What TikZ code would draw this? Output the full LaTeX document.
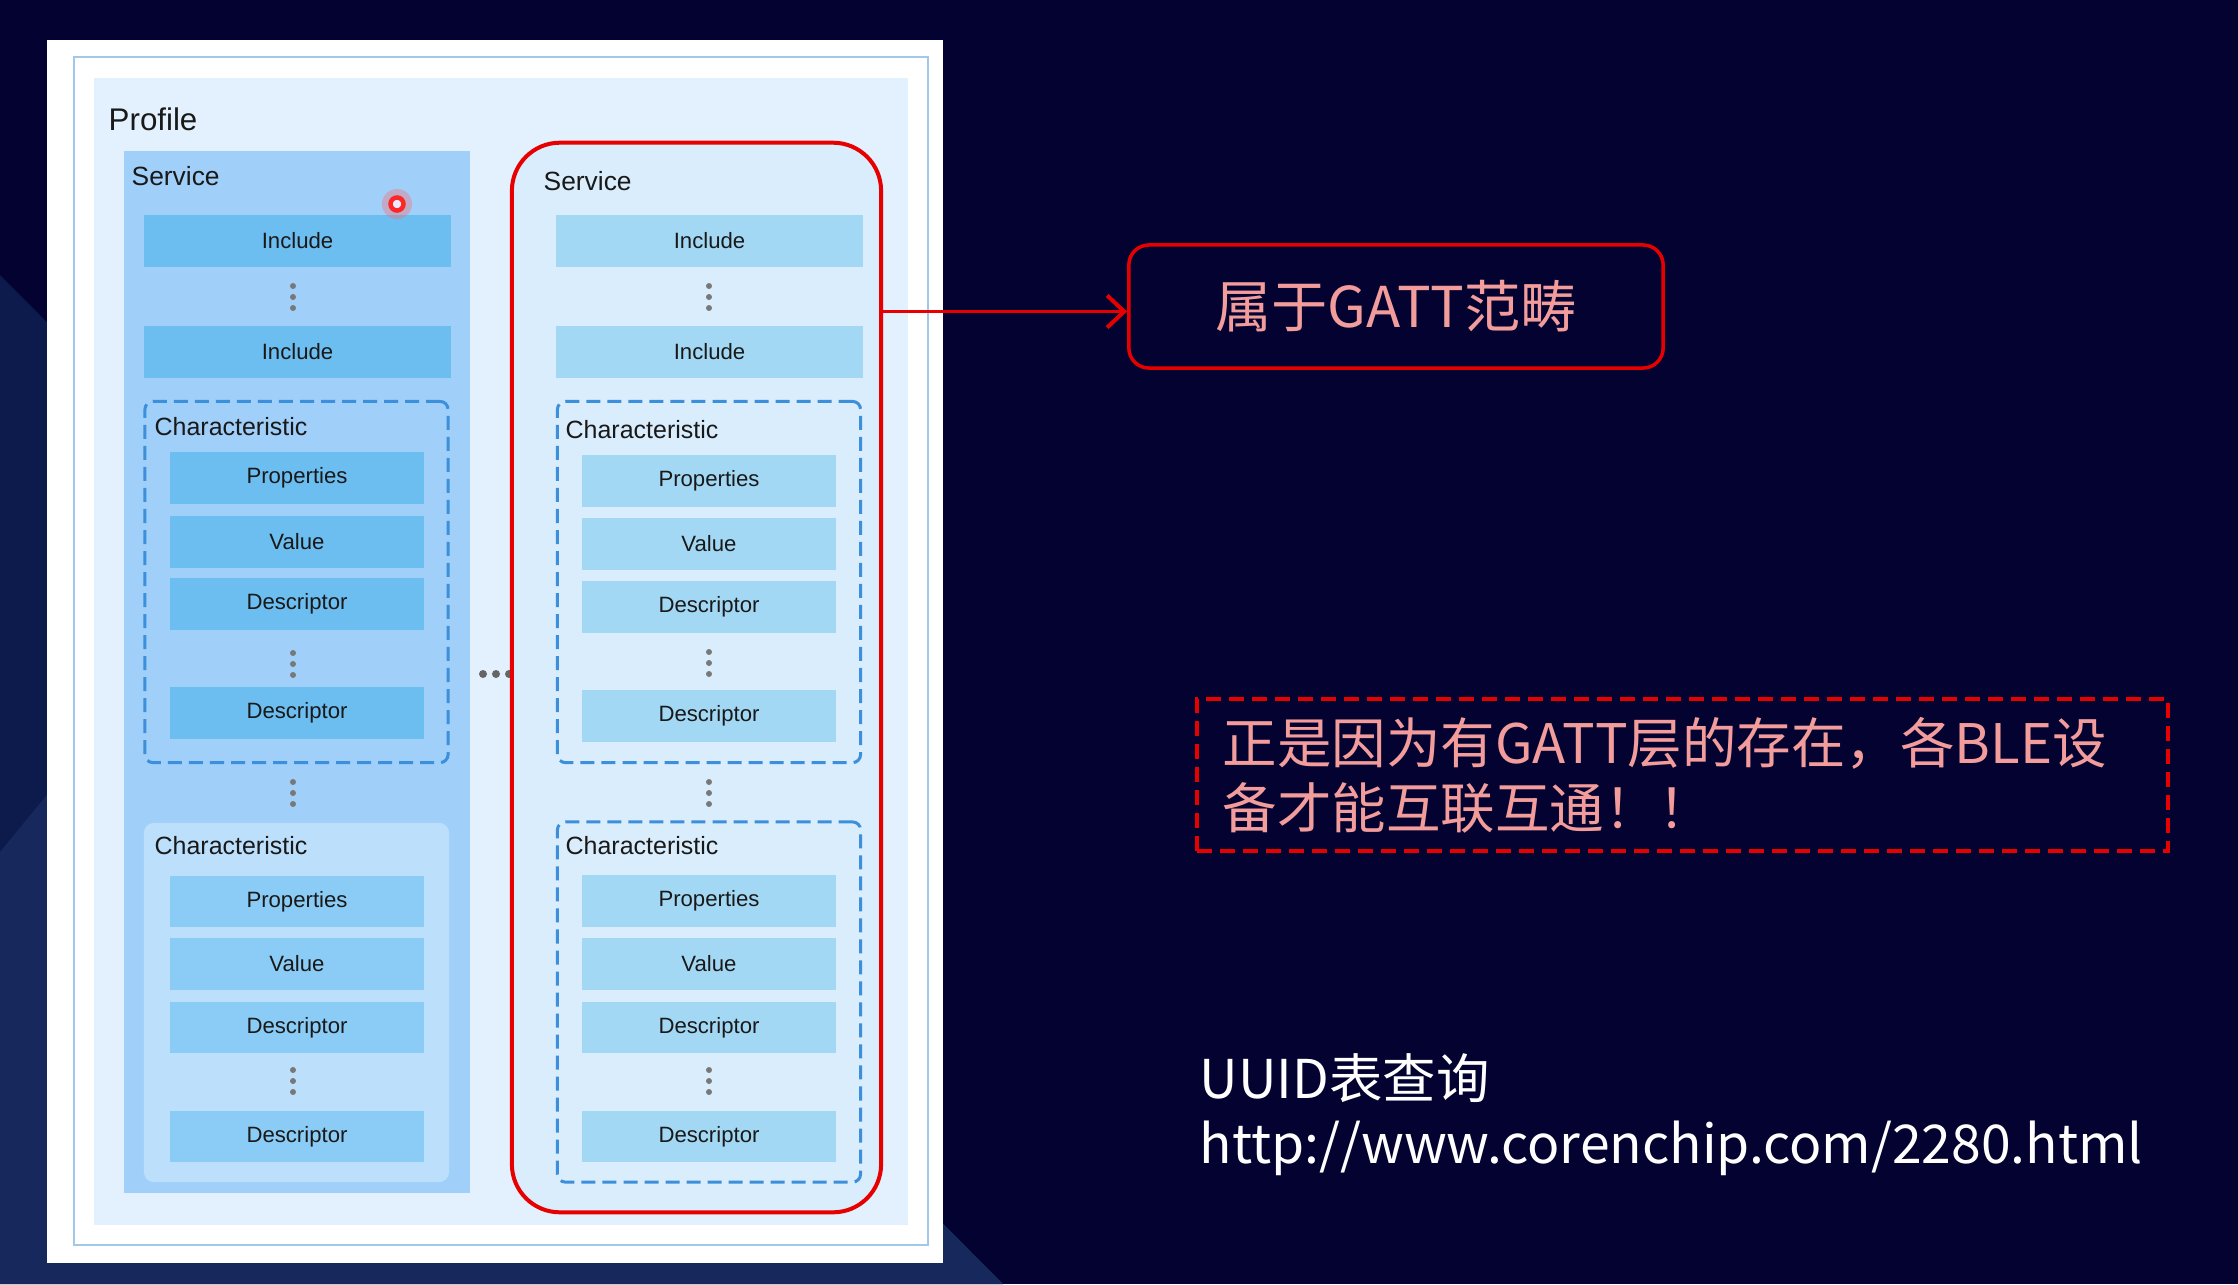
\documentclass[tikz,border=0pt]{standalone}
\usepackage{fontspec}
\setmainfont{Liberation Sans}
\newfontfamily\cjk{Noto Sans CJK SC}
\usetikzlibrary{arrows.meta,positioning,calc}

\definecolor{bgnavy}{RGB}{3,2,48}
\definecolor{bgmid}{RGB}{12,26,76}
\definecolor{bglow}{RGB}{22,40,92}
\definecolor{frameblue}{RGB}{160,200,232}
\definecolor{profbg}{RGB}{226,241,253}
\definecolor{lsvcbg}{RGB}{160,207,249}
\definecolor{lattrbg}{RGB}{108,189,240}
\definecolor{lchrbg}{RGB}{188,224,252}
\definecolor{lattrtwo}{RGB}{138,204,245}
\definecolor{rattrbg}{RGB}{163,216,245}
\definecolor{rsvcbg}{RGB}{218,237,252}
\definecolor{dashblue}{RGB}{60,143,218}
\definecolor{dotgray}{RGB}{120,120,120}
\definecolor{txtdark}{RGB}{25,25,25}
\definecolor{gattred}{RGB}{230,0,0}
\definecolor{pinktxt}{RGB}{242,156,156}

\tikzset{
  attr/.style={rectangle,inner sep=0pt,minimum width=2.54cm,minimum height=0.51cm,text=txtdark,font=\fontsize{6.3}{7}\selectfont},
  incl/.style={attr,minimum width=3.07cm,minimum height=0.52cm},
  lattr/.style={attr,fill=lattrbg},
  lattr2/.style={attr,fill=lattrtwo},
  rattr/.style={attr,fill=rattrbg},
  chrbox/.style={rectangle,rounded corners=0.08cm,draw=dashblue,line width=0.03cm,dash pattern=on 0.14cm off 0.07cm,minimum width=3.03cm,minimum height=3.61cm},
  lchr/.style={rectangle,rounded corners=0.1cm,fill=lchrbg,minimum width=3.05cm,minimum height=3.59cm},
  lbl/.style={anchor=west,inner sep=0pt,text=txtdark},
  arr/.style={-{Straight Barb[length=0.17cm,width=0.32cm,line width=0.04cm]},gattred,line width=0.035cm},
  gattbox/.style={rectangle,rounded corners=0.2cm,draw=gattred,line width=0.035cm,minimum width=5.34cm,minimum height=1.23cm,text=pinktxt,font=\cjk\fontsize{16}{19}\selectfont},
  notebox/.style={rectangle,draw=gattred,line width=0.04cm,dash pattern=on 0.15cm off 0.08cm,minimum width=9.71cm,minimum height=1.52cm,text width=9.19cm,align=left,text=pinktxt,font=\cjk\fontsize{15.5}{18.5}\selectfont}
}

\begin{document}
\begin{tikzpicture}[x=0.01cm,y=-0.01cm]
  \useasboundingbox (0,0) rectangle (2238,1284);
  % slide background
  \fill[bgnavy] (0,0) rectangle (2238,1284);
  \fill[bgmid] (0,275) -- (1003,1284) -- (0,1284) -- cycle;
  \fill[bglow] (0,852) -- (260,535) -- (1003,1284) -- (0,1284) -- cycle;

  % profile panel
  \node[rectangle,fill=white,minimum width=8.96cm,minimum height=12.23cm] (panel) at (495,651.5) {};
  \node[rectangle,draw=frameblue,line width=0.02cm,minimum width=8.54cm,minimum height=11.88cm] (frame) at (501,651) {};
  \node[rectangle,fill=profbg,minimum width=8.14cm,minimum height=11.47cm] (prof) at (501,651.5) {};
  \node[lbl,font=\fontsize{8.9}{10}\selectfont] (proflbl) at (108,119) {Profile};

  % left service
  \node[rectangle,fill=lsvcbg,minimum width=3.46cm,minimum height=10.42cm] (lsvc) at (297,672) {};
  \node[lbl,font=\fontsize{7.5}{9}\selectfont] (lsvclbl) at (131,176) {Service};
  \node[incl,fill=lattrbg] (linc1) at (297.5,241) {Include};
  \node[incl,fill=lattrbg] (linc2) at (297.5,352) {Include};

  \node[chrbox] (lc1) at (296.5,582) {};
  \node[lbl,font=\fontsize{7.1}{8}\selectfont] (lc1lbl) at (154,427) {Characteristic};
  \foreach \nm/\txt/\y in {p/Properties/478,v/Value/542,d/Descriptor/604,n/Descriptor/713}
    \node[lattr] (lc1\nm) at (297,\y) {\txt};

  \node[lchr] (lc2) at (296.5,1002.5) {};
  \node[lbl,font=\fontsize{7.1}{8}\selectfont] (lc2lbl) at (154,846) {Characteristic};
  \foreach \nm/\txt/\y in {p/Properties/901.5,v/Value/964,d/Descriptor/1027.5,n/Descriptor/1136.5}
    \node[lattr2] (lc2\nm) at (297,\y) {\txt};

  % dots between columns
  \foreach \x in {483,496,509}
    \fill[dotgray!85!black] (\x,674) circle (0.04cm);

  % right service (GATT)
  \node[rectangle,rounded corners=0.48cm,draw=gattred,fill=rsvcbg,line width=0.04cm,minimum width=3.69cm,minimum height=10.69cm] (rsvc) at (696.5,677.5) {};
  \node[lbl,font=\fontsize{7.5}{9}\selectfont] (rsvclbl) at (543,181) {Service};
  \node[incl,fill=rattrbg] (rinc1) at (709.5,241) {Include};
  \node[incl,fill=rattrbg] (rinc2) at (709.5,352) {Include};

  \node[chrbox] (rc1) at (709,582) {};
  \node[lbl,font=\fontsize{7.1}{8}\selectfont] (rc1lbl) at (565,430) {Characteristic};
  \foreach \nm/\txt/\y in {p/Properties/481,v/Value/544,d/Descriptor/607,n/Descriptor/716}
    \node[rattr] (rc1\nm) at (709,\y) {\txt};

  \node[chrbox,minimum height=3.60cm] (rc2) at (709,1002) {};
  \node[lbl,font=\fontsize{7.1}{8}\selectfont] (rc2lbl) at (565,846) {Characteristic};
  \foreach \nm/\txt/\y in {p/Properties/901,v/Value/964,d/Descriptor/1027.5,n/Descriptor/1136.5}
    \node[rattr] (rc2\nm) at (709,\y) {\txt};

  % vertical dots
  \foreach \x/\y in {293/297,709/297,293/664,709/663,293/793,709/793,293/1081,709/1081}
    \foreach \d in {-11,0,11}
      \fill[dotgray] (\x,\y+\d) circle (0.03cm);

  % cursor mark
  \fill[red!60,opacity=0.35] (397,204) circle (0.15cm);
  \node[circle,draw=red!85!white,fill=blue!8,line width=0.045cm,minimum size=0.13cm,inner sep=0pt] (cursor) at (397,204) {};

  % notes
  \node[gattbox] (gatt) at (1396,306.5) {属于GATT范畴};
  \draw[arr] ([yshift=-0.05cm]rsvc.east |- gatt.west) -- ([yshift=-0.05cm]gatt.west);

  \node[notebox] (note) at (1682.5,775) {正是因为有GATT层的存在，各BLE设\\备才能互联互通！！};

  \node[lbl,text=white,font=\cjk\fontsize{15.2}{18}\selectfont] (uuid) at (1199,1078) {UUID表查询};
  \node[lbl,text=white,font=\cjk\fontsize{15.2}{18}\selectfont] (url) at (1199,1148) {http://www.corenchip.com/2280.html};
\end{tikzpicture}
\end{document}
